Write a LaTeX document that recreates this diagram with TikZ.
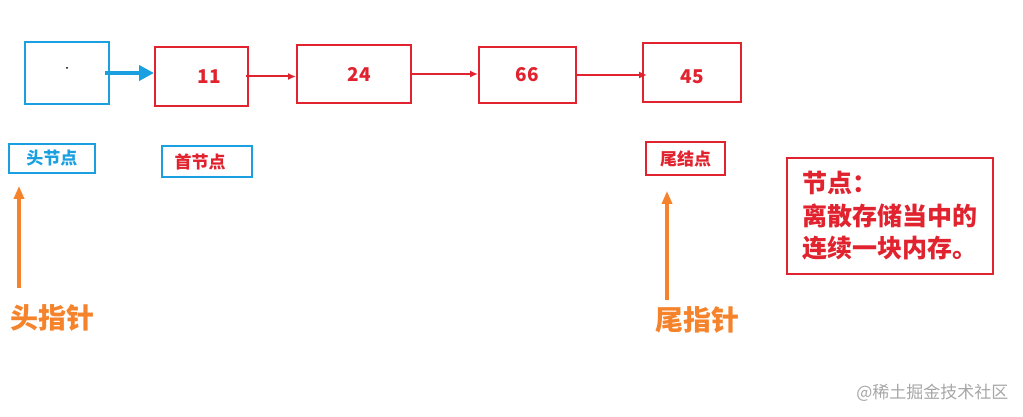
\documentclass[tikz,border=0pt]{standalone}
\usepackage{fontspec}
\usepackage[HTML]{xcolor}
\usetikzlibrary{positioning, arrows, arrows.meta}
\newfontfamily\cjk{Noto Sans CJK SC}

\definecolor{lkblue}{HTML}{1AA0E0}
\definecolor{lkred}{HTML}{E0232E}
\definecolor{lkorange}{HTML}{F5832C}

\tikzset{
    cell/.style={draw=lkred, line width=2pt, font=\cjk\bfseries\fontsize{19}{19}\selectfont, text=lkred},
    tag/.style={draw=#1, line width=1.8pt, font=\cjk\bfseries\fontsize{17}{17}\selectfont},
    link/.style={-{Latex[length=8pt, width=7pt]}, draw=lkred, line width=2pt},
    ptr/.style={-{Triangle[length=13pt, width=10pt]}, draw=lkorange, line width=3.2pt},
}

\begin{document}
\begin{tikzpicture}[x=1pt, y=-1pt]
    \useasboundingbox (0,0) rectangle (1023,417);

    % 1. Define Nodes: head and the list cells
    \node (head) [draw=lkblue, line width=2pt, minimum width=84, minimum height=62] at (67,73) {};
    \fill (67,68) circle (1);
    \node (c11) [cell, minimum width=93, minimum height=59] at (201.5,76.5) {\hspace{16pt}11};
    \node (c24) [cell, minimum width=114, minimum height=58] at (354,74) {\hspace{10pt}24};
    \node (c66) [cell, minimum width=97, minimum height=56] at (527.5,75) {66};
    \node (c45) [cell, minimum width=98, minimum height=59, text height=23pt] at (692,72.5) {45};

    % 2. Draw Links between the cells
    \draw[-{Triangle[length=15pt, width=15pt]}, draw=lkblue, line width=4pt] ([xshift=-5pt]head.east) -- (head.east -| c11.west);
    \draw[link] ([xshift=-3pt]c11.east) -- (c11.east -| c24.west);
    \draw[link] (c24.east) -- (c24.east -| c66.west);
    \draw[link] (c66.east) -- ([xshift=5pt]c66.east -| c45.west);

    % 3. Labels under the cells
    \node (hl) [tag=lkblue, text=lkblue, minimum width=86, minimum height=29] at (52,158.5) {头节点};
    \node (fl) [tag=lkblue, text=lkred, minimum width=90, minimum height=31] at (207,161.5) {\hspace{-14pt}首节点};
    \node (tl) [tag=lkred, text=lkred, minimum width=79, minimum height=33] at (685.5,158.5) {尾结点};

    % 4. Draw Pointers up to the labels
    \coordinate (hp) at (19,288);
    \coordinate (tp) at (667,300);
    \draw[ptr] (hp) -- ([yshift=-12pt]hl.south -| hp);
    \draw[ptr] (tp) -- ([yshift=-15pt]tl.south -| tp);
    \node (hpl) [font=\cjk\bfseries\fontsize{28}{28}\selectfont, text=lkorange] at (52,318) {头指针};
    \node (tpl) [font=\cjk\bfseries\fontsize{28}{28}\selectfont, text=lkorange] at (697,320) {尾指针};

    % 5. Note box
    \node (note) [draw=lkred, line width=2pt, text=lkred, align=left, minimum width=206, minimum height=116, inner sep=0pt,
        font=\cjk\bfseries\fontsize{25}{32.5}\selectfont] at (890,216) {节点：\\离散存储当中的\\连续一块内存。};

    \node (mark) [anchor=east, text=black!35, font=\cjk\fontsize{17}{17}\selectfont] at (1012,393) {@稀土掘金技术社区};
\end{tikzpicture}
\end{document}
